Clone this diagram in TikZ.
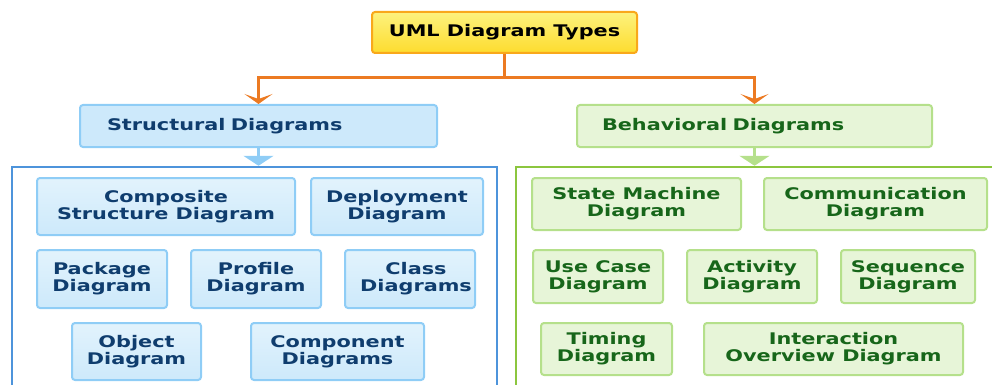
\documentclass[tikz,border=0pt]{standalone}
\usepackage{fontspec}
\setmainfont[FakeStretch=1.3]{DejaVu Sans}
\usetikzlibrary{arrows.meta}

\definecolor{ytop}{HTML}{FDF27E}
\definecolor{ybot}{HTML}{FDDC2E}
\definecolor{yborder}{HTML}{F9A81B}
\definecolor{linkorange}{HTML}{EC7A22}
\definecolor{bfill}{HTML}{CDE9FB}
\definecolor{bfilltop}{HTML}{E2F3FC}
\definecolor{bborder}{HTML}{8FCDF6}
\definecolor{btext}{HTML}{0F3D6E}
\definecolor{bframe}{HTML}{4D94DB}
\definecolor{gfill}{HTML}{E7F5D8}
\definecolor{gborder}{HTML}{B5E08B}
\definecolor{gtext}{HTML}{17661A}
\definecolor{gframe}{HTML}{8CC63F}

\tikzset{
  box/.style={rounded corners=3pt, line width=2pt, align=center, inner sep=0pt},
  rootbox/.style={box, draw=yborder, top color=ytop, bottom color=ybot, text=black},
  bluehead/.style={box, draw=bborder, fill=bfill, text=btext, align=left},
  greenhead/.style={box, draw=gborder, fill=gfill, text=gtext, align=left},
  bluebox/.style={box, draw=bborder, top color=bfilltop, bottom color=bfill, text=btext},
  greenbox/.style={box, draw=gborder, fill=gfill, text=gtext},
  frame/.style={draw, line width=2.5pt, inner sep=0pt},
  splitlink/.style={draw=linkorange, line width=3pt,
    -{Stealth[length=10pt, width=28pt, inset=5pt]}},
  bluelink/.style={draw=bborder, line width=3pt, -{Triangle[length=10pt, width=30pt]}},
  greenlink/.style={draw=gborder, line width=3pt, -{Triangle[length=10pt, width=30pt]}},
}

\begin{document}
\begin{tikzpicture}[x=1pt, y=-1pt, font=\bfseries\fontsize{16}{17}\selectfont]
\useasboundingbox (0,0) rectangle (992,385);

% root
\node[rootbox, minimum width=265pt, minimum height=41pt] (uml) at (504.5,32.5) {UML Diagram Types};

% category headers
\node[bluehead, minimum width=357pt, minimum height=42pt, text width=303pt] (sd) at (258.5,126)
  {Structural Diagrams};
\node[greenhead, minimum width=355pt, minimum height=42pt, text width=305pt] (bd) at (754.5,126)
  {Behavioral Diagrams};

% group frames (cut by the lower and right edges)
\node[frame, draw=bframe, minimum width=485pt, minimum height=230pt] (sframe) at (254.5,282) {};
\node[frame, draw=gframe, minimum width=484pt, minimum height=230pt] (bframe) at (758,282) {};

% connectors from the root
\coordinate (hbar) at (0,78);
\draw[splitlink] (uml.south) -- (uml.south |- hbar) -| (sd.north);
\draw[splitlink] (uml.south |- hbar) -| (bd.north);

% connectors into the frames
\draw[bluelink] (sd.south) -- (sd.south |- sframe.north);
\draw[greenlink] (bd.south) -- (bd.south |- bframe.north);

% structural diagrams
\node[bluebox, minimum width=258pt, minimum height=57pt] (composite) at (166,206.5) {Composite\\Structure Diagram};
\node[bluebox, minimum width=172pt, minimum height=57pt] (deployment) at (397,206.5) {Deployment\\Diagram};
\node[bluebox, minimum width=130pt, minimum height=58pt] (package) at (102,279) {Package\\Diagram};
\node[bluebox, minimum width=130pt, minimum height=58pt] (profile) at (256,279) {Profile\\Diagram};
\node[bluebox, minimum width=130pt, minimum height=58pt] (class) at (410,279) {\hspace*{12pt}Class\\\hspace*{12pt}Diagrams};
\node[bluebox, minimum width=129pt, minimum height=57pt] (object) at (136.5,351.5) {Object\\Diagram};
\node[bluebox, minimum width=173pt, minimum height=57pt] (component) at (337.5,351.5) {Component\\Diagrams};

% behavioral diagrams
\node[greenbox, minimum width=209pt, minimum height=52pt] (statemachine) at (636.5,204) {State Machine\\Diagram};
\node[greenbox, minimum width=223pt, minimum height=52pt] (communication) at (875.5,204) {Communication\\Diagram};
\node[greenbox, minimum width=130pt, minimum height=53pt] (usecase) at (598,276.5) {Use Case\\Diagram};
\node[greenbox, minimum width=130pt, minimum height=53pt] (activity) at (752,276.5) {Activity\\Diagram};
\node[greenbox, minimum width=134pt, minimum height=53pt] (sequence) at (908,276.5) {Sequence\\Diagram};
\node[greenbox, minimum width=131pt, minimum height=52pt] (timing) at (606.5,349) {Timing\\Diagram};
\node[greenbox, minimum width=259pt, minimum height=52pt] (interaction) at (833.5,349) {Interaction\\Overview Diagram};
\end{tikzpicture}
\end{document}
